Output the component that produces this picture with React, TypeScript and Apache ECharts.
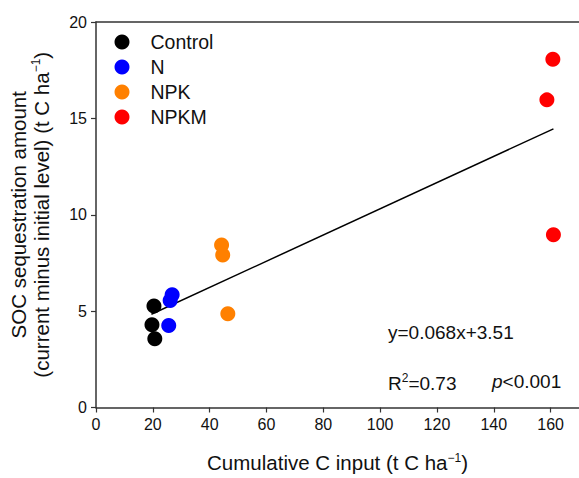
import React, { useEffect, useRef } from "react";
import * as echarts from "echarts";

const groups = ["Control", "N", "NPK", "NPKM"];
const groupColors = ["#000000", "#0000ff", "#ff8000", "#ff0000"];
const controlPts: [number, number][] = [[20.4, 5.27], [19.7, 4.29], [20.7, 3.57]];
const nPts: [number, number][] = [[26.8, 5.85], [26.1, 5.55], [25.6, 4.26]];
const npkPts: [number, number][] = [[44.2, 8.43], [44.6, 7.91], [46.4, 4.87]];
const npkmPts: [number, number][] = [[160.8, 18.07], [158.7, 15.96], [161.0, 8.96]];
const fitSlope = 0.068;
const fitIntercept = 3.51;
const fitRange = [19.5, 161];
const xTicks = [0, 20, 40, 60, 80, 100, 120, 140, 160];
const yTicks = [0, 5, 10, 15, 20];

const FONT = "'Liberation Sans', Arial, Helvetica, sans-serif";

export default function App() {
  const ref = useRef<HTMLDivElement>(null);
  useEffect(() => {
    if (!ref.current) return;
    const chart = echarts.init(ref.current, undefined, { renderer: "svg" });
    const seriesPts = [controlPts, nPts, npkPts, npkmPts];
    const axisColor = "#333333";
    chart.setOption({
      animation: false,
      textStyle: { fontFamily: FONT },
      grid: { left: 95, top: 22, width: 486, height: 391, containLabel: false },
      legend: {
        orient: "vertical",
        left: 114.5,
        top: 29.5,
        padding: 0,
        itemWidth: 15,
        itemHeight: 15,
        itemGap: 0,
        data: groups.map((g) => ({ name: g, icon: "circle" })),
        textStyle: { fontFamily: FONT, fontSize: 19.5, color: "#111", lineHeight: 25, padding: [0, 0, 0, 16] },
      },
      xAxis: [
        {
          type: "value",
          min: 0,
          max: 170,
          interval: 20,
          position: "bottom",
          axisLine: { show: true, onZero: false, lineStyle: { color: axisColor, width: 1.5 } },
          axisTick: { show: true, inside: false, length: 5, lineStyle: { color: axisColor, width: 1.2 } },
          axisLabel: {
            fontFamily: FONT,
            fontSize: 16,
            color: "#111",
            margin: 9,
            showMaxLabel: false,
            formatter: (v: number) => (xTicks.includes(v) ? String(v) : ""),
          },
          splitLine: { show: false },
          name: "{t|Cumulative C input (t C ha}{s|−1}{t|)}",
          nameLocation: "middle",
          nameGap: 44,
          nameTextStyle: {
            rich: {
              t: { fontFamily: FONT, fontSize: 20.5, color: "#111", lineHeight: 22 },
              s: { fontFamily: FONT, fontSize: 12, color: "#111", lineHeight: 22, verticalAlign: "top" },
            },
          },
        },
        {
          type: "value",
          min: 0,
          max: 170,
          position: "top",
          axisLine: { show: true, onZero: false, lineStyle: { color: axisColor, width: 1.5 } },
          axisTick: { show: false },
          axisLabel: { show: false },
          splitLine: { show: false },
        },
      ],
      yAxis: {
        type: "value",
        min: 0,
        max: 20,
        interval: 5,
        axisLine: { show: true, onZero: false, lineStyle: { color: axisColor, width: 1.5 } },
        axisTick: { show: true, inside: false, length: 5, lineStyle: { color: axisColor, width: 1.2 } },
        axisLabel: {
          fontFamily: FONT,
          fontSize: 16,
          color: "#111",
          margin: 9,
          formatter: (v: number) => (yTicks.includes(v) ? String(v) : ""),
        },
        splitLine: { show: false },
        name:
          "{t|SOC sequestration amount}\n{t|(current minus initial level) (t C ha}{s|−1}{t|)}",
        nameLocation: "middle",
        nameRotate: 90,
        nameGap: 43,
        nameTextStyle: {
          rich: {
            t: { fontFamily: FONT, fontSize: 20.5, color: "#111", lineHeight: 23 },
            s: { fontFamily: FONT, fontSize: 12, color: "#111", lineHeight: 23, verticalAlign: "top" },
          },
        },
      },
      series: [
        {
          name: "fit",
          type: "line",
          data: fitRange.map((x) => [x, fitSlope * x + fitIntercept]),
          symbol: "none",
          lineStyle: { color: "#000", width: 1.5 },
          z: 1,
          silent: true,
        },
        ...groups.map((g, i) => ({
          name: g,
          type: "scatter",
          data: seriesPts[i],
          symbol: "circle",
          symbolSize: 15,
          itemStyle: { color: groupColors[i], opacity: 1 },
          z: 3,
        })),
      ],
      graphic: [
        {
          type: "text",
          left: 388,
          top: 323,
          style: { text: "y=0.068x+3.51", fontFamily: FONT, fontSize: 19, fill: "#111" },
        },
        {
          type: "text",
          left: 388,
          top: 372,
          style: {
            text: "{t|R}{s|2}{t|=0.73}",
            rich: {
              t: { fontFamily: FONT, fontSize: 19, fill: "#111", lineHeight: 22 },
              s: { fontFamily: FONT, fontSize: 12, fill: "#111", lineHeight: 22, verticalAlign: "top" },
            },
          },
        },
        {
          type: "text",
          left: 492,
          top: 372,
          style: {
            text: "{i|p}{t|<0.001}",
            rich: {
              i: { fontFamily: FONT, fontSize: 19, fontStyle: "italic", fill: "#111", lineHeight: 22 },
              t: { fontFamily: FONT, fontSize: 19, fill: "#111", lineHeight: 22 },
            },
          },
        },
      ],
    });
    return () => chart.dispose();
  }, []);
  return (
    <div
      ref={ref}
      style={{ position: "absolute", left: 0, top: 0, width: 579, height: 478, background: "#fff" }}
    />
  );
}
